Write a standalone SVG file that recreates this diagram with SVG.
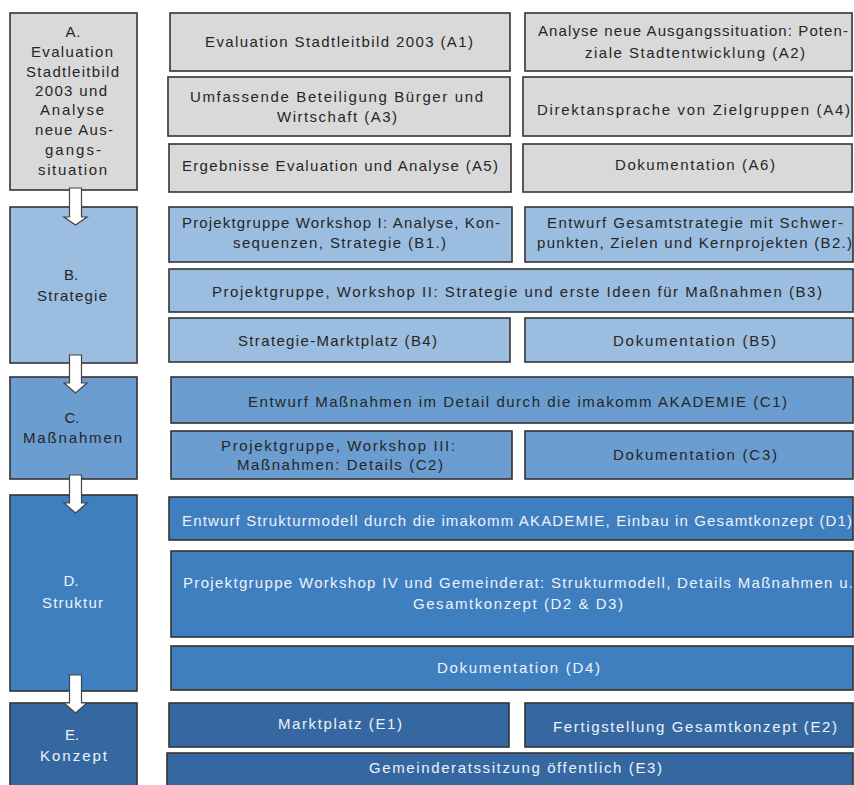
<svg xmlns="http://www.w3.org/2000/svg" width="854" height="785" viewBox="0 0 854 785">
<defs>
<style>
.a,.b,.c,.d,.e{stroke:#333;stroke-width:1.6}
.a{fill:#d9d9d9}.b{fill:#9bbde0}.c{fill:#6b9dd1}.d{fill:#3f7fc0}.e{fill:#3568a0}
text{font-family:"Liberation Sans",Arial,sans-serif;font-size:15px;text-anchor:middle;fill:#262626}
.w{fill:#eef2f8}
.arr{fill:#fff;stroke:#444;stroke-width:1.2}
</style>
</defs>
<rect width="854" height="785" fill="#fff"/>
<g id="phaseA">
<rect class="a" x="10" y="13" width="127" height="177"/>
<text x="73" y="37" textLength="15" lengthAdjust="spacing">A.</text>
<text x="72" y="57" textLength="82" lengthAdjust="spacing">Evaluation</text>
<text x="72.5" y="77" textLength="93" lengthAdjust="spacing">Stadtleitbild</text>
<text x="71" y="96" textLength="72" lengthAdjust="spacing">2003 und</text>
<text x="72" y="115" textLength="64" lengthAdjust="spacing">Analyse</text>
<text x="74" y="135" textLength="78" lengthAdjust="spacing">neue Aus-</text>
<text x="73" y="155" textLength="56" lengthAdjust="spacing">gangs-</text>
<text x="72.5" y="175" textLength="69" lengthAdjust="spacing">situation</text>
</g>
<g id="A1"><rect class="a" x="170" y="13" width="340" height="58"/><text x="339" y="47" textLength="268" lengthAdjust="spacing">Evaluation Stadtleitbild 2003 (A1)</text></g>
<g id="A2"><rect class="a" x="525" y="13" width="327" height="58"/><text x="693" y="36" textLength="310" lengthAdjust="spacing">Analyse neue Ausgangssituation: Poten-</text><text x="695" y="58" textLength="220" lengthAdjust="spacing">ziale Stadtentwicklung (A2)</text></g>
<g id="A3"><rect class="a" x="168" y="77" width="342" height="59"/><text x="336.5" y="102" textLength="293" lengthAdjust="spacing">Umfassende Beteiligung Bürger und</text><text x="337" y="122" textLength="120" lengthAdjust="spacing">Wirtschaft (A3)</text></g>
<g id="A4"><rect class="a" x="523" y="77" width="329" height="59"/><text x="693.5" y="115" textLength="313" lengthAdjust="spacing">Direktansprache von Zielgruppen (A4)</text></g>
<g id="A5"><rect class="a" x="169" y="144" width="342" height="48"/><text x="340" y="171" textLength="316" lengthAdjust="spacing">Ergebnisse Evaluation und Analyse (A5)</text></g>
<g id="A6"><rect class="a" x="523" y="144" width="329" height="48"/><text x="695" y="170" textLength="160" lengthAdjust="spacing">Dokumentation (A6)</text></g>

<g id="phaseB">
<rect class="b" x="10" y="207" width="127" height="156"/>
<text x="71" y="280">B.</text>
<text x="72" y="301" textLength="70" lengthAdjust="spacing">Strategie</text>
</g>
<g id="B1"><rect class="b" x="169" y="207" width="343" height="55"/><text x="341" y="228" textLength="318" lengthAdjust="spacing">Projektgruppe Workshop I: Analyse, Kon-</text><text x="339.5" y="248" textLength="213" lengthAdjust="spacing">sequenzen, Strategie (B1.)</text></g>
<g id="B2"><rect class="b" x="525" y="207" width="328" height="55"/><text x="695" y="228" textLength="296" lengthAdjust="spacing">Entwurf Gesamtstrategie mit Schwer-</text><text x="694.5" y="248" textLength="315" lengthAdjust="spacing">punkten, Zielen und Kernprojekten (B2.)</text></g>
<g id="B3"><rect class="b" x="169" y="269" width="684" height="43"/><text x="517" y="297" textLength="610" lengthAdjust="spacing">Projektgruppe, Workshop II: Strategie und erste Ideen für Maßnahmen (B3)</text></g>
<g id="B4"><rect class="b" x="169" y="318" width="341" height="44"/><text x="337.5" y="346" textLength="199" lengthAdjust="spacing">Strategie-Marktplatz (B4)</text></g>
<g id="B5"><rect class="b" x="525" y="318" width="328" height="44"/><text x="694.5" y="346" textLength="163" lengthAdjust="spacing">Dokumentation (B5)</text></g>

<g id="phaseC">
<rect class="c" x="10" y="377" width="127" height="102"/>
<text x="72" y="423">C.</text>
<text x="72.5" y="443" textLength="99" lengthAdjust="spacing">Maßnahmen</text>
</g>
<g id="C1"><rect class="c" x="171" y="377" width="682" height="46"/><text x="517.5" y="407" textLength="539" lengthAdjust="spacing">Entwurf Maßnahmen im Detail durch die imakomm AKADEMIE (C1)</text></g>
<g id="C2"><rect class="c" x="171" y="431" width="341" height="48"/><text x="338" y="451" textLength="234" lengthAdjust="spacing">Projektgruppe, Workshop III:</text><text x="340" y="470" textLength="206" lengthAdjust="spacing">Maßnahmen: Details (C2)</text></g>
<g id="C3"><rect class="c" x="525" y="431" width="328" height="48"/><text x="695" y="460" textLength="164" lengthAdjust="spacing">Dokumentation (C3)</text></g>

<g id="phaseD">
<rect class="d" x="10" y="495" width="127" height="196"/>
<text class="w" x="71" y="586">D.</text>
<text class="w" x="72.5" y="608" textLength="61" lengthAdjust="spacing">Struktur</text>
</g>
<g id="D1"><rect class="d" x="169" y="497" width="684" height="43"/><text class="w" x="517" y="526" textLength="670" lengthAdjust="spacing">Entwurf Strukturmodell durch die imakomm AKADEMIE, Einbau in Gesamtkonzept (D1)</text></g>
<g id="D2"><rect class="d" x="171" y="551" width="682" height="86"/><text class="w" x="518" y="588" textLength="670" lengthAdjust="spacing">Projektgruppe Workshop IV und Gemeinderat: Strukturmodell, Details Maßnahmen u.</text><text class="w" x="518" y="609" textLength="210" lengthAdjust="spacing">Gesamtkonzept (D2 &amp; D3)</text></g>
<g id="D4"><rect class="d" x="171" y="646" width="682" height="44"/><text class="w" x="518.5" y="673" textLength="163" lengthAdjust="spacing">Dokumentation (D4)</text></g>

<g id="phaseE">
<rect class="e" x="10" y="703" width="127" height="92"/>
<text class="w" x="72" y="740">E.</text>
<text class="w" x="73.5" y="761" textLength="67" lengthAdjust="spacing">Konzept</text>
</g>
<g id="E1"><rect class="e" x="169" y="703" width="340" height="44"/><text class="w" x="340" y="729" textLength="124" lengthAdjust="spacing">Marktplatz (E1)</text></g>
<g id="E2"><rect class="e" x="525" y="703" width="328" height="44"/><text class="w" x="695" y="732" textLength="284" lengthAdjust="spacing">Fertigstellung Gesamtkonzept (E2)</text></g>
<g id="E3"><rect class="e" x="167" y="753" width="686" height="42"/><text class="w" x="515.5" y="773" textLength="293" lengthAdjust="spacing">Gemeinderatssitzung öffentlich (E3)</text></g>

<g id="connectors">
<polygon class="arr" points="69.5,188 81.5,188 81.5,217 87,217 75.5,225 64,217 69.5,217"/>
<polygon class="arr" points="69.5,355 81.5,355 81.5,383 87,383 75.5,393 64,383 69.5,383"/>
<polygon class="arr" points="69.5,475 81.5,475 81.5,503 87,503 75.5,513 64,503 69.5,503"/>
<polygon class="arr" points="69.5,675 81.5,675 81.5,703 87,703 75.5,713 64,703 69.5,703"/>
</g>
</svg>
